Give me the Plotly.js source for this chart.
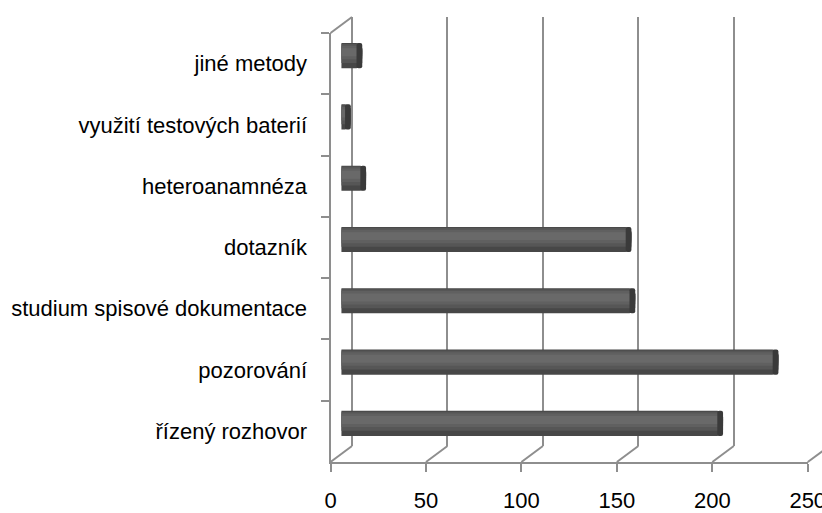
<!DOCTYPE html>
<html>
<head>
<meta charset="utf-8">
<script src="https://cdn.plot.ly/plotly-3.0.1.min.js"></script>
<style>html,body{margin:0;padding:0;background:#fff;}#chart{width:822px;height:513px;}</style>
</head>
<body>
<div id="chart"></div>
<script>
// Data (bottom to top)
const categories = ["řízený rozhovor", "pozorování", "studium spisové dokumentace", "dotazník", "heteroanamnéza", "využití testových baterií", "jiné metody"];
const values = [200, 229, 154, 152, 13, 5, 11];
const xTicks = [0, 50, 100, 150, 200, 250];
const xTickLabels = ["0", "50", "100", "150", "200", "250"];

// Geometry (pixels) of the pseudo-3D frame
const W = 822, H = 513;
const front = {x0: 330.5, pxPerUnit: 1.909, yTop: 33, yBot: 462};
const depth = {dx: 21.5, dy: 16};
const px = x => x / W;
const py = y => 1 - y / H;

const FONT = {family: '"Liberation Sans", Arial, sans-serif', size: 22, color: '#000'};
const GRID = '#8e8e8e';

const barCol = 0.41;
const traces = [];
// back wall anchor trace (invisible)
traces.push({type: 'scatter', x: [0], y: [0], xaxis: 'x', yaxis: 'y', mode: 'markers', marker: {opacity: 0}, hoverinfo: 'skip', showlegend: false});
// cylinder-like bars: layered shading
const layers = [
  {w: barCol, off: -barCol / 2, c: '#474747', r: 6},
  {w: 0.31, off: -0.12, c: '#565656', r: 5},
  {w: 0.22, off: -0.06, c: '#606060', r: 4},
  {w: 0.13, off: -0.01, c: '#696969', r: 3}
];
layers.forEach(l => traces.push({
  type: 'bar', orientation: 'h', x: values, y: categories, xaxis: 'x2', yaxis: 'y2',
  width: l.w, offset: l.off, marker: {color: l.c, cornerradius: l.r, line: {width: 0}},
  hoverinfo: 'x+y', showlegend: false
}));
// end cap (darker ellipse-ish end)
traces.push({
  type: 'bar', orientation: 'h', x: values.map(v => Math.min(v, 3)), base: values.map(v => Math.max(v - 3, 0)), y: categories,
  xaxis: 'x2', yaxis: 'y2', width: barCol, offset: -barCol / 2,
  marker: {color: '#3a3a3a', cornerradius: 5, line: {width: 0}}, hoverinfo: 'skip', showlegend: false
});
// front axis anchor trace
traces.push({type: 'scatter', x: values, y: categories, xaxis: 'x3', yaxis: 'y3', mode: 'markers', marker: {opacity: 0}, hoverinfo: 'skip', showlegend: false});

const frontXEnd = front.x0 + 250 * front.pxPerUnit;
const backX0 = front.x0 + depth.dx;
const midX0 = front.x0 + depth.dx / 2;

// diagonal depth lines (floor and top-left corner)
const shapes = xTicks.map(t => {
  const fx = front.x0 + t * front.pxPerUnit;
  return {type: 'line', xref: 'paper', yref: 'paper', x0: px(fx), y0: py(front.yBot), x1: px(fx + depth.dx), y1: py(front.yBot - depth.dy), line: {color: GRID, width: 2}, layer: 'below'};
});
shapes.push({type: 'line', xref: 'paper', yref: 'paper', x0: px(front.x0), y0: py(front.yTop), x1: px(backX0), y1: py(front.yTop - depth.dy), line: {color: GRID, width: 2}, layer: 'below'});

const layout = {
  width: W, height: H,
  margin: {l: 0, r: 0, t: 0, b: 0},
  paper_bgcolor: '#fff', plot_bgcolor: 'rgba(0,0,0,0)',
  showlegend: false,
  barmode: 'overlay',
  // back wall
  xaxis: {domain: [px(backX0), 1], range: [0, (W - backX0) / front.pxPerUnit], tickvals: xTicks.slice(0, 5), showgrid: true, gridcolor: GRID, gridwidth: 2,
          zeroline: true, zerolinecolor: GRID, zerolinewidth: 2, showticklabels: false, ticks: '', showline: false, anchor: 'y', fixedrange: true},
  yaxis: {domain: [py(front.yBot - depth.dy), py(front.yTop - depth.dy)], range: [0, 1], showgrid: false, zeroline: false, showticklabels: false, ticks: '', showline: false, anchor: 'x', fixedrange: true},
  // bars (mid depth)
  xaxis2: {domain: [px(midX0), px(midX0 + 250 * front.pxPerUnit)], range: [0, 250], visible: false, anchor: 'y2', fixedrange: true},
  yaxis2: {domain: [py(front.yBot - depth.dy / 2), py(front.yTop - depth.dy / 2)], type: 'category', categoryarray: categories, categoryorder: 'array', range: [-0.5, 6.5], visible: false, anchor: 'x2', fixedrange: true},
  // front axes
  xaxis3: {domain: [px(front.x0), px(frontXEnd)], range: [0, 250], tickvals: xTicks, ticktext: xTickLabels, ticks: 'outside', ticklen: 8, tickwidth: 2, tickcolor: GRID,
           showline: true, linecolor: GRID, linewidth: 2, showgrid: false, zeroline: false, tickfont: FONT, ticklabelstandoff: 10, ticklabeloverflow: 'allow',
           anchor: 'y3', automargin: false, fixedrange: true},
  yaxis3: {domain: [py(front.yBot), py(front.yTop)], type: 'category', categoryarray: categories, categoryorder: 'array', range: [-0.5, 6.5], ticks: 'outside', tickson: 'boundaries', ticklen: 8, tickwidth: 2, tickcolor: GRID,
           showline: true, linecolor: GRID, linewidth: 2, showgrid: false, zeroline: false, tickfont: FONT, ticklabelstandoff: 17, ticklabeloverflow: 'allow',
           anchor: 'x3', automargin: false, fixedrange: true},
  shapes: shapes
};

Plotly.newPlot('chart', traces, layout, {displayModeBar: false, staticPlot: true});
</script>
</body>
</html>
